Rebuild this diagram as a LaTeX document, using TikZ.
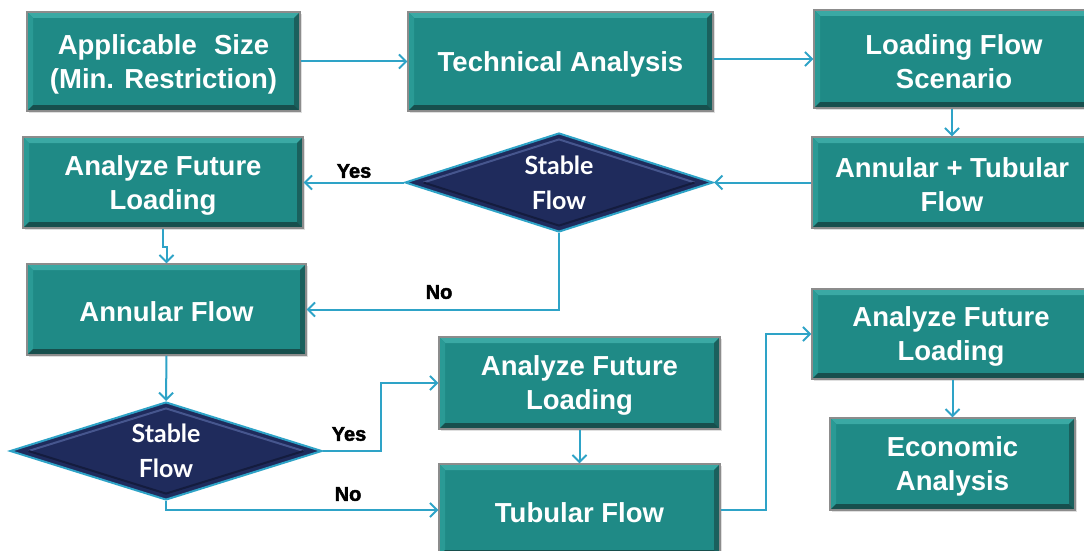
\documentclass[tikz,border=0pt]{standalone}
\usepackage{fontspec}
\setmainfont{Liberation Sans}
\newfontfamily\diafont{Lato}
\newfontfamily\heavyfont{Liberation Sans}[BoldFeatures={FakeBold=2.2}]
\usetikzlibrary{shapes.geometric,arrows.meta,shadows}
\definecolor{tealfill}{HTML}{1F8A86}
\definecolor{tealtop}{HTML}{3AA9A4}
\definecolor{tealleft}{HTML}{2A9A95}
\definecolor{tealright}{HTML}{1A605D}
\definecolor{tealbot}{HTML}{174F4D}
\definecolor{boxedge}{HTML}{8C8C8C}
\definecolor{navyfill}{HTML}{1F2B5C}
\definecolor{navyhi}{HTML}{46568E}
\definecolor{navylo}{HTML}{141C3E}
\definecolor{cyanline}{HTML}{2EA3C7}
\tikzset{
  boxtext/.style={text=white, font=\fontsize{27.5}{34}\selectfont\bfseries, align=center, inner sep=0pt, yshift=-2.5pt},
  bevelbox/.style={draw=boxedge, line width=1.2pt, fill=tealfill, inner sep=0pt,
    drop shadow={shadow xshift=2pt, shadow yshift=-2pt, opacity=0.25},
    label={[boxtext]center:{#1}},
    path picture={
      \fill[tealtop] (path picture bounding box.north west) -- (path picture bounding box.north east)
        -- ([shift={(-6pt,-6pt)}]path picture bounding box.north east) -- ([shift={(6pt,-6pt)}]path picture bounding box.north west) -- cycle;
      \fill[tealleft] (path picture bounding box.north west) -- ([shift={(6pt,-6pt)}]path picture bounding box.north west)
        -- ([shift={(6pt,6pt)}]path picture bounding box.south west) -- (path picture bounding box.south west) -- cycle;
      \fill[tealright] (path picture bounding box.north east) -- (path picture bounding box.south east)
        -- ([shift={(-6pt,6pt)}]path picture bounding box.south east) -- ([shift={(-6pt,-6pt)}]path picture bounding box.north east) -- cycle;
      \fill[tealbot] (path picture bounding box.south west) -- (path picture bounding box.south east)
        -- ([shift={(-6pt,6pt)}]path picture bounding box.south east) -- ([shift={(6pt,6pt)}]path picture bounding box.south west) -- cycle;
    }},
  decision/.style={shape=diamond, aspect=3.1, draw=cyanline, line width=2pt, fill=navyfill, text=white,
    font=\diafont\bfseries\fontsize{25}{35}\selectfont, align=center, inner sep=0pt,
    path picture={
      \draw[navyhi, line width=2pt] ([xshift=18pt]path picture bounding box.west) -- ([yshift=-6pt]path picture bounding box.north)
        -- ([xshift=-18pt]path picture bounding box.east);
      \draw[navylo, line width=2pt] ([xshift=18pt]path picture bounding box.west) -- ([yshift=6pt]path picture bounding box.south)
        -- ([xshift=-18pt]path picture bounding box.east);
    }},
  conn/.style={draw=cyanline, line width=2pt, -{Straight Barb[length=7pt,width=14pt]}},
  lbl/.style={font=\heavyfont\bfseries\fontsize{20}{22}\selectfont, text=black, inner sep=0pt},
}
\begin{document}
\begin{tikzpicture}[x=1pt,y=-1pt]
\useasboundingbox (0,0) rectangle (1084,551);
\node[bevelbox={Applicable\hspace{0.35em} Size\\(Min. Restriction)}, minimum width=273pt, minimum height=99pt] (b1) at (163.5,61.5) {};
\node[bevelbox={Technical Analysis}, minimum width=305pt, minimum height=99pt] (b2) at (560.5,61.5) {};
\node[bevelbox={Loading Flow\\Scenario}, minimum width=280pt, minimum height=98pt] (b3) at (954,59) {};
\node[bevelbox={Annular + Tubular\\Flow}, minimum width=280pt, minimum height=91pt] (b4) at (952,182.5) {};
\node[bevelbox={Analyze Future\\Loading}, minimum width=280pt, minimum height=91pt] (b5) at (163,182.5) {};
\node[bevelbox={Annular Flow}, minimum width=279pt, minimum height=91pt] (b6) at (166.5,309.5) {};
\node[bevelbox={Analyze Future\\Loading}, minimum width=281pt, minimum height=92pt] (b7) at (579.5,383) {};
\node[bevelbox={Tubular Flow}, minimum width=281pt, minimum height=92pt] (b8) at (579.5,510) {};
\node[bevelbox={Analyze Future\\Loading}, minimum width=278pt, minimum height=90pt] (b9) at (951,334) {};
\node[bevelbox={Economic\\Analysis}, minimum width=245pt, minimum height=92pt] (b10) at (952.5,464) {};
\node[decision, minimum width=308pt, minimum height=99pt] (d1) at (559,182.5) {Stable\\Flow};
\node[decision, minimum width=312pt, minimum height=98pt] (d2) at (166,451) {Stable\\Flow};
\draw[conn] (b1.east) -- (b2.west);
\draw[conn] (b2.east |- b3.west) -- (b3.west);
\draw[conn] (b3.south -| b4.north) -- (b4.north);
\draw[conn] (b4.west) -- (d1.east);
\draw[conn] (d1.west) -- (b5.east);
\draw[conn] (d1.south) |- (b6.east);
\draw[conn] (b5.south) -- ++(0,18) -| (b6.north);
\draw[conn] (b6.south) -- (d2.north);
\draw[conn] (d2.east) -- ++(58,0) |- (b7.west);
\draw[conn] (d2.south) |- (b8.west);
\draw[conn] (b7.south) -- (b8.north);
\draw[conn] (b8.east) -- ++(45,0) |- (b9.west);
\draw[conn] (b9.south -| b10.north) -- (b10.north);
\node[lbl] (yes1) at (354,171) {Yes};
\node[lbl] (no1) at (439,292) {No};
\node[lbl] (yes2) at (349,434) {Yes};
\node[lbl] (no2) at (348,494) {No};
\end{tikzpicture}
\end{document}
